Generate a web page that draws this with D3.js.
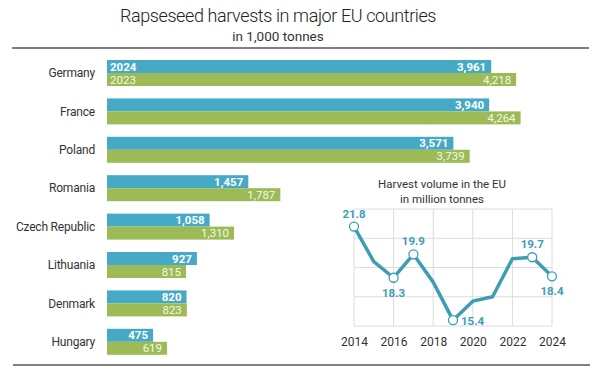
<!DOCTYPE html>
<html>
<head>
<meta charset="utf-8">
<script src="https://cdnjs.cloudflare.com/ajax/libs/d3/7.8.5/d3.min.js"></script>
<style>
  body { margin: 0; background: #fff; }
  svg { display: block; font-family: Roboto, "Open Sans", sans-serif; }
</style>
</head>
<body>
<div id="chart"></div>
<script>
const countries = ["Germany", "France", "Poland", "Romania", "Czech Republic", "Lithuania", "Denmark", "Hungary"];
const harvest2024 = [3961, 3940, 3571, 1457, 1058, 927, 820, 475];
const harvest2023 = [4218, 4264, 3739, 1787, 1310, 815, 823, 619];
const seriesNames = ["2024", "2023"];

const euYears = [2014, 2015, 2016, 2017, 2018, 2019, 2020, 2021, 2022, 2023, 2024];
const euVolume = [21.8, 19.4, 18.3, 19.9, 18.0, 15.4, 16.7, 17.0, 19.6, 19.7, 18.4];
const labelledYears = [2014, 2016, 2017, 2019, 2023, 2024];
const xTicks = [2014, 2016, 2018, 2020, 2022, 2024];
const yGrid = [15, 17, 19, 21, 23];

const width = 601, height = 370;
const blue = "#46aac7", green = "#9cbb57", lineColor = "#3d9db3";

const svg = d3.select("#chart").append("svg")
    .attr("width", width)
    .attr("height", height);

// titles
svg.append("text")
    .attr("x", 278).attr("y", 22)
    .attr("text-anchor", "middle")
    .attr("font-size", 18).attr("font-weight", 300).attr("letter-spacing", -0.4).attr("fill", "#222")
    .text("Rapseseed harvests in major EU countries");
svg.append("text")
    .attr("x", 278).attr("y", 41)
    .attr("text-anchor", "middle")
    .attr("font-size", 13.5).attr("fill", "#333")
    .text("in 1,000 tonnes");

svg.append("line").attr("x1", 12).attr("x2", 589).attr("y1", 48).attr("y2", 48)
    .attr("stroke", "#555").attr("stroke-width", 1.5);
svg.append("line").attr("x1", 13).attr("x2", 590).attr("y1", 365).attr("y2", 365)
    .attr("stroke", "#555").attr("stroke-width", 1.5);

// bar chart
const x = d3.scaleLinear().domain([0, 4264]).range([107, 107 + 4264 * 0.097]);
const y = d3.scaleBand().domain(countries).range([53.8, 361]).paddingInner(0.323).paddingOuter(0.1615);
const ySub = d3.scaleBand().domain(seriesNames).range([0, y.bandwidth()]);

const rows = countries.map((c, i) => ({ country: c, values: [harvest2024[i], harvest2023[i]] }));

const row = svg.selectAll(".row")
    .data(rows)
    .enter().append("g")
    .attr("class", "row")
    .attr("transform", d => `translate(0,${y(d.country)})`);

row.append("text")
    .attr("x", 95)
    .attr("y", y.bandwidth() / 2)
    .attr("dy", "0.35em")
    .attr("text-anchor", "end")
    .attr("font-size", 12)
    .attr("letter-spacing", -0.2)
    .attr("fill", "#333")
    .text(d => d.country);

seriesNames.forEach((s, k) => {
    row.append("rect")
        .attr("x", x(0))
        .attr("y", ySub(s))
        .attr("width", d => x(d.values[k]) - x(0))
        .attr("height", ySub.bandwidth())
        .attr("fill", k === 0 ? blue : green);

    row.append("text")
        .attr("x", d => x(d.values[k]) - 5)
        .attr("y", ySub(s) + ySub.bandwidth() / 2)
        .attr("dy", "0.36em")
        .attr("text-anchor", "end")
        .attr("font-size", 11.5)
        .attr("font-weight", k === 0 ? "bold" : "normal")
        .attr("fill", k === 0 ? "#fff" : "#f4f8e6")
        .text(d => d3.format(",")(d.values[k]));
});

// series labels inside the first bar
seriesNames.forEach((s, k) => {
    svg.append("text")
        .attr("x", x(0) + 3)
        .attr("y", y(countries[0]) + ySub(s) + ySub.bandwidth() / 2)
        .attr("dy", "0.36em")
        .attr("font-size", 11.5)
        .attr("font-weight", k === 0 ? "bold" : "normal")
        .attr("fill", k === 0 ? "#fff" : "#f4f8e6")
        .text(s);
});

// line chart inset
const lx = d3.scaleLinear().domain([2014, 2024]).range([354, 552]);
const ly = d3.scaleLinear().domain([15, 23]).range([326, 209]);

svg.append("rect")
    .attr("x", 322).attr("y", 168).attr("width", 260).attr("height", 190)
    .attr("fill", "#fff");

svg.append("text")
    .attr("x", 442).attr("y", 188)
    .attr("text-anchor", "middle").attr("font-size", 11.5).attr("fill", "#333")
    .text("Harvest volume in the EU");
svg.append("text")
    .attr("x", 442).attr("y", 203)
    .attr("text-anchor", "middle").attr("font-size", 11.5).attr("fill", "#333")
    .text("in million tonnes");

const grid = svg.append("g").attr("stroke", "#dcdcdc").attr("stroke-width", 1);
grid.selectAll(".gx").data(xTicks).enter().append("line")
    .attr("x1", d => lx(d)).attr("x2", d => lx(d))
    .attr("y1", ly(23)).attr("y2", ly(15));
grid.selectAll(".gy").data(yGrid).enter().append("line")
    .attr("x1", lx(2014)).attr("x2", lx(2024))
    .attr("y1", d => ly(d)).attr("y2", d => ly(d));

svg.append("g")
    .attr("transform", `translate(0,${ly(15)})`)
    .call(d3.axisBottom(lx).tickValues(xTicks).tickFormat(d3.format("d")).tickSize(0).tickPadding(11))
    .call(g => g.select(".domain").remove())
    .call(g => g.selectAll("text").attr("font-size", 12).attr("fill", "#333").attr("font-family", "Roboto, sans-serif"));

const pts = euYears.map((yr, i) => ({ year: yr, v: euVolume[i] }));

svg.append("path")
    .datum(pts)
    .attr("fill", "none")
    .attr("stroke", lineColor)
    .attr("stroke-width", 3.5)
    .attr("stroke-linejoin", "round")
    .attr("d", d3.line().x(d => lx(d.year)).y(d => ly(d.v)));

const marked = pts.filter(d => labelledYears.includes(d.year));
svg.selectAll(".pt").data(marked).enter().append("circle")
    .attr("cx", d => lx(d.year)).attr("cy", d => ly(d.v)).attr("r", 4.5)
    .attr("fill", "#fff").attr("stroke", lineColor).attr("stroke-width", 1.3);

// label placement: above or below the point
const below = { 2016: true, 2024: true };
svg.selectAll(".pl").data(marked).enter().append("text")
    .attr("x", d => d.year === 2019 ? lx(d.year) + 8 : lx(d.year))
    .attr("y", d => d.year === 2019 ? ly(d.v) + 5 : below[d.year] ? ly(d.v) + 19 : ly(d.v) - 9)
    .attr("text-anchor", d => d.year === 2019 ? "start" : "middle")
    .attr("font-size", 11.5)
    .attr("font-weight", "bold")
    .attr("fill", lineColor)
    .text(d => d.v.toFixed(1));
</script>
</body>
</html>
